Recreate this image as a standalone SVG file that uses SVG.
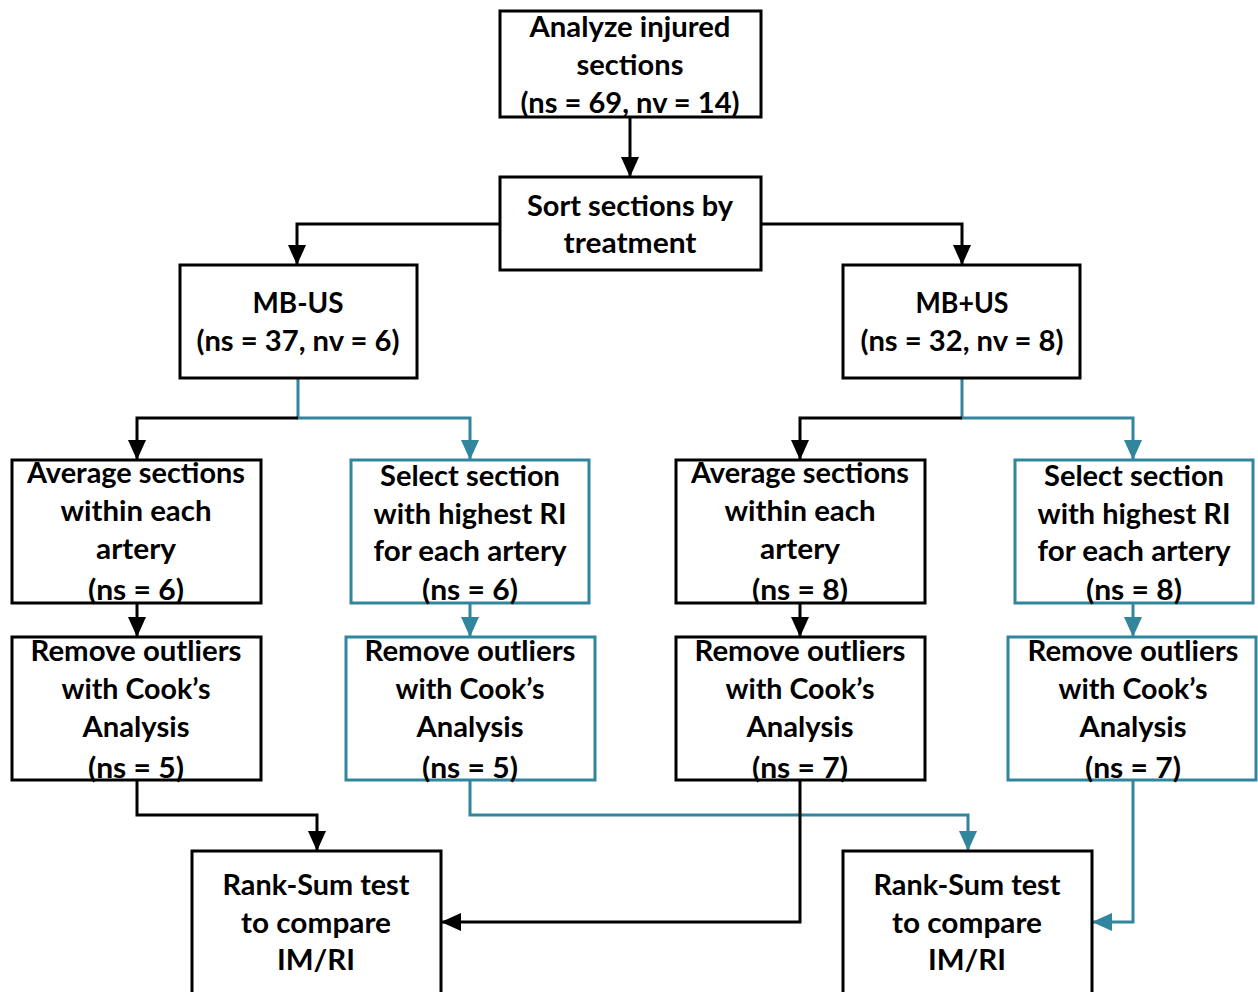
<svg xmlns="http://www.w3.org/2000/svg" width="1258" height="992" viewBox="0 0 1258 992">
<defs>
<style>
.box{fill:#fff;stroke:#000;stroke-width:3}
.tbox{fill:#fff;stroke:#31859C;stroke-width:3}
.k{fill:none;stroke:#000;stroke-width:3}
.t{fill:none;stroke:#31859C;stroke-width:3}
text{font-family:Lato,"Open Sans","Liberation Sans",sans-serif;font-weight:bold;font-size:29px;fill:#000;text-anchor:middle}
</style>
<marker id="ak" markerUnits="userSpaceOnUse" markerWidth="20" markerHeight="20" viewBox="0 0 20 20" refX="19" refY="10" orient="auto"><path d="M0,1 L20,10 L0,19 Z" fill="#000"/></marker>
<marker id="at" markerUnits="userSpaceOnUse" markerWidth="20" markerHeight="20" viewBox="0 0 20 20" refX="19" refY="10" orient="auto"><path d="M0,1 L20,10 L0,19 Z" fill="#31859C"/></marker>
</defs>
<rect width="1258" height="992" fill="#fff"/>
<g id="connectors">
<path class="k" d="M630,117 V176" marker-end="url(#ak)"/>
<path class="k" d="M500,224 H297 V264" marker-end="url(#ak)"/>
<path class="k" d="M761,224 H962 V264" marker-end="url(#ak)"/>
<path class="t" d="M298,378 V418 H470 V459" marker-end="url(#at)"/>
<path class="k" d="M298,418 H137 V459" marker-end="url(#ak)"/>
<path class="t" d="M962,378 V418 H1133 V459" marker-end="url(#at)"/>
<path class="k" d="M962,418 H800 V459" marker-end="url(#ak)"/>
<path class="k" d="M137,603 V636" marker-end="url(#ak)"/>
<path class="t" d="M470,603 V636" marker-end="url(#at)"/>
<path class="k" d="M800,603 V636" marker-end="url(#ak)"/>
<path class="t" d="M1133,603 V636" marker-end="url(#at)"/>
<path class="k" d="M137,780 V815 H317 V850" marker-end="url(#ak)"/>
<path class="t" d="M470,780 V815 H968 V850" marker-end="url(#at)"/>
<path class="k" d="M800,780 V922 H442" marker-end="url(#ak)"/>
<path class="t" d="M1133,780 V922 H1093" marker-end="url(#at)"/>
</g>
<g id="analyze">
<rect class="box" x="500" y="11" width="261" height="106"/>
<text x="630" y="37" textLength="201" lengthAdjust="spacingAndGlyphs">Analyze injured</text>
<text x="630" y="75" textLength="107" lengthAdjust="spacingAndGlyphs">sections</text>
<text x="630" y="113" textLength="219" lengthAdjust="spacingAndGlyphs">(ns = 69, nv = 14)</text>
</g>
<g id="sort">
<rect class="box" x="500" y="177" width="261" height="93"/>
<text x="630" y="216" textLength="206" lengthAdjust="spacingAndGlyphs">Sort sections by</text>
<text x="630" y="253" textLength="133" lengthAdjust="spacingAndGlyphs">treatment</text>
</g>
<g id="mbminus">
<rect class="box" x="180" y="265" width="237" height="113"/>
<text x="298" y="313" textLength="91" lengthAdjust="spacingAndGlyphs">MB-US</text>
<text x="298" y="351" textLength="203" lengthAdjust="spacingAndGlyphs">(ns = 37, nv = 6)</text>
</g>
<g id="mbplus">
<rect class="box" x="843" y="265" width="237" height="113"/>
<text x="962" y="313" textLength="93" lengthAdjust="spacingAndGlyphs">MB+US</text>
<text x="962" y="351" textLength="203" lengthAdjust="spacingAndGlyphs">(ns = 32, nv = 8)</text>
</g>
<g id="avgL">
<rect class="box" x="12" y="460" width="249" height="143"/>
<text x="136" y="483" textLength="218" lengthAdjust="spacingAndGlyphs">Average sections</text>
<text x="136" y="521" textLength="151" lengthAdjust="spacingAndGlyphs">within each</text>
<text x="136" y="559" textLength="80" lengthAdjust="spacingAndGlyphs">artery</text>
<text x="136" y="600" textLength="96" lengthAdjust="spacingAndGlyphs">(ns = 6)</text>
</g>
<g id="selL">
<rect class="tbox" x="351" y="460" width="238" height="143"/>
<text x="470" y="486" textLength="180" lengthAdjust="spacingAndGlyphs">Select section</text>
<text x="470" y="524" textLength="193" lengthAdjust="spacingAndGlyphs">with highest RI</text>
<text x="470" y="561" textLength="193" lengthAdjust="spacingAndGlyphs">for each artery</text>
<text x="470" y="600" textLength="96" lengthAdjust="spacingAndGlyphs">(ns = 6)</text>
</g>
<g id="avgR">
<rect class="box" x="676" y="460" width="249" height="143"/>
<text x="800" y="483" textLength="218" lengthAdjust="spacingAndGlyphs">Average sections</text>
<text x="800" y="521" textLength="151" lengthAdjust="spacingAndGlyphs">within each</text>
<text x="800" y="559" textLength="80" lengthAdjust="spacingAndGlyphs">artery</text>
<text x="800" y="600" textLength="96" lengthAdjust="spacingAndGlyphs">(ns = 8)</text>
</g>
<g id="selR">
<rect class="tbox" x="1015" y="460" width="238" height="143"/>
<text x="1134" y="486" textLength="180" lengthAdjust="spacingAndGlyphs">Select section</text>
<text x="1134" y="524" textLength="193" lengthAdjust="spacingAndGlyphs">with highest RI</text>
<text x="1134" y="561" textLength="193" lengthAdjust="spacingAndGlyphs">for each artery</text>
<text x="1134" y="600" textLength="96" lengthAdjust="spacingAndGlyphs">(ns = 8)</text>
</g>
<g id="remL1">
<rect class="box" x="12" y="637" width="249" height="143"/>
<text x="136" y="661" textLength="211" lengthAdjust="spacingAndGlyphs">Remove outliers</text>
<text x="136" y="699" textLength="149" lengthAdjust="spacingAndGlyphs">with Cook’s</text>
<text x="136" y="737" textLength="107" lengthAdjust="spacingAndGlyphs">Analysis</text>
<text x="136" y="778" textLength="96" lengthAdjust="spacingAndGlyphs">(ns = 5)</text>
</g>
<g id="remL2">
<rect class="tbox" x="346" y="637" width="249" height="143"/>
<text x="470" y="661" textLength="211" lengthAdjust="spacingAndGlyphs">Remove outliers</text>
<text x="470" y="699" textLength="149" lengthAdjust="spacingAndGlyphs">with Cook’s</text>
<text x="470" y="737" textLength="107" lengthAdjust="spacingAndGlyphs">Analysis</text>
<text x="470" y="778" textLength="96" lengthAdjust="spacingAndGlyphs">(ns = 5)</text>
</g>
<g id="remR1">
<rect class="box" x="676" y="637" width="249" height="143"/>
<text x="800" y="661" textLength="211" lengthAdjust="spacingAndGlyphs">Remove outliers</text>
<text x="800" y="699" textLength="149" lengthAdjust="spacingAndGlyphs">with Cook’s</text>
<text x="800" y="737" textLength="107" lengthAdjust="spacingAndGlyphs">Analysis</text>
<text x="800" y="778" textLength="96" lengthAdjust="spacingAndGlyphs">(ns = 7)</text>
</g>
<g id="remR2">
<rect class="tbox" x="1008" y="637" width="248" height="143"/>
<text x="1133" y="661" textLength="211" lengthAdjust="spacingAndGlyphs">Remove outliers</text>
<text x="1133" y="699" textLength="149" lengthAdjust="spacingAndGlyphs">with Cook’s</text>
<text x="1133" y="737" textLength="107" lengthAdjust="spacingAndGlyphs">Analysis</text>
<text x="1133" y="778" textLength="96" lengthAdjust="spacingAndGlyphs">(ns = 7)</text>
</g>
<g id="rank1">
<rect class="box" x="192" y="851" width="249" height="160"/>
<text x="316" y="895" textLength="187" lengthAdjust="spacingAndGlyphs">Rank-Sum test</text>
<text x="316" y="933" textLength="150" lengthAdjust="spacingAndGlyphs">to compare</text>
<text x="316" y="970" textLength="78" lengthAdjust="spacingAndGlyphs">IM/RI</text>
</g>
<g id="rank2">
<rect class="box" x="843" y="851" width="249" height="160"/>
<text x="967" y="895" textLength="187" lengthAdjust="spacingAndGlyphs">Rank-Sum test</text>
<text x="967" y="933" textLength="150" lengthAdjust="spacingAndGlyphs">to compare</text>
<text x="967" y="970" textLength="78" lengthAdjust="spacingAndGlyphs">IM/RI</text>
</g>
</svg>
